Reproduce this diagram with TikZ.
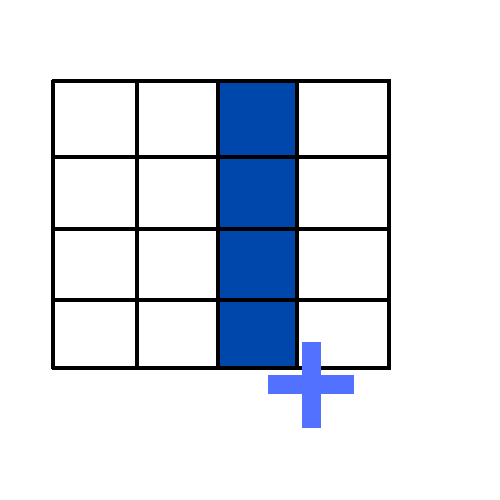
\documentclass[tikz,border=0pt]{standalone}
\definecolor{cobalt}{HTML}{0047AB}
\definecolor{plusblue}{HTML}{5271FF}
\begin{document}
\begin{tikzpicture}[x=1pt,y=-1pt,
  gridline/.style={line width=3.6pt,black},
  plusbar/.style={fill=plusblue,draw=none}]
\useasboundingbox[fill=white] (0,0) rectangle (500,500);
% blue column
\fill[cobalt] (218,81) rectangle (297,368);
% horizontal lines
\foreach \y in {81,157,229,300,368}
  \draw[gridline] (52,\y) -- (391,\y);
% vertical lines
\foreach \x in {53,137,218,297,389}
  \draw[gridline] (\x,80) -- (\x,369);
% plus sign
\fill[plusbar] (302,342) rectangle (321,428);
\fill[plusbar] (268,375) rectangle (354,394);
\end{tikzpicture}
\end{document}
